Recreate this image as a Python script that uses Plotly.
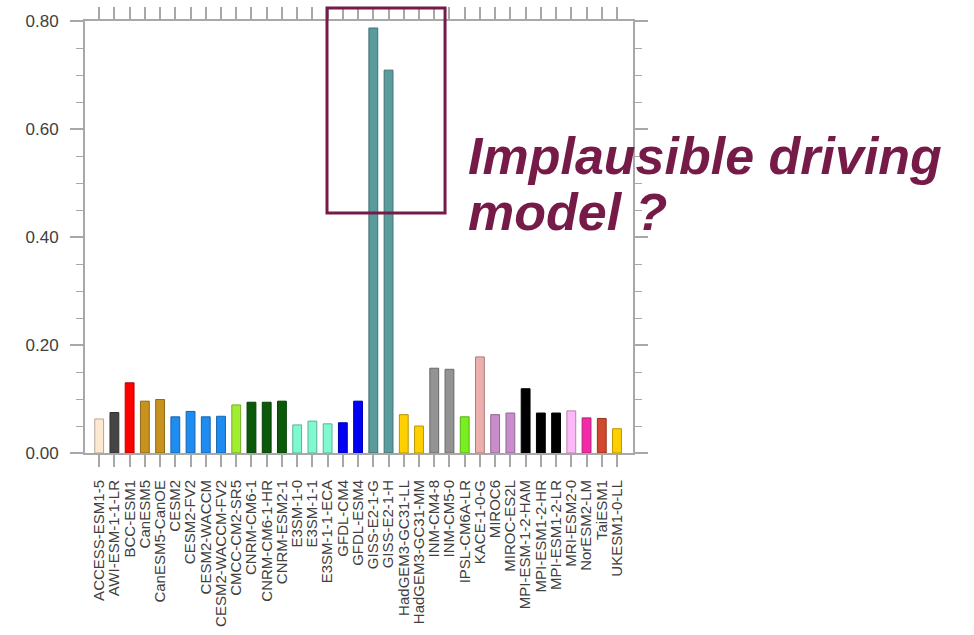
import plotly.graph_objects as go

models = [
    "ACCESS-ESM1-5", "AWI-ESM-1-1-LR", "BCC-ESM1", "CanESM5", "CanESM5-CanOE",
    "CESM2", "CESM2-FV2", "CESM2-WACCM", "CESM2-WACCM-FV2", "CMCC-CM2-SR5",
    "CNRM-CM6-1", "CNRM-CM6-1-HR", "CNRM-ESM2-1", "E3SM-1-0", "E3SM-1-1",
    "E3SM-1-1-ECA", "GFDL-CM4", "GFDL-ESM4", "GISS-E2-1-G", "GISS-E2-1-H",
    "HadGEM3-GC31-LL", "HadGEM3-GC31-MM", "INM-CM4-8", "INM-CM5-0", "IPSL-CM6A-LR",
    "KACE-1-0-G", "MIROC6", "MIROC-ES2L", "MPI-ESM-1-2-HAM", "MPI-ESM1-2-HR",
    "MPI-ESM1-2-LR", "MRI-ESM2-0", "NorESM2-LM", "TaiESM1", "UKESM1-0-LL",
]
values = [
    0.063, 0.075, 0.130, 0.096, 0.099,
    0.067, 0.077, 0.067, 0.068, 0.089,
    0.094, 0.094, 0.096, 0.052, 0.059,
    0.054, 0.056, 0.096, 0.787, 0.709,
    0.071, 0.050, 0.157, 0.155, 0.067,
    0.178, 0.071, 0.074, 0.119, 0.074,
    0.074, 0.078, 0.065, 0.064, 0.045,
]
colors = [
    "#FCE9D2", "#454545", "#FF0000", "#C8921F", "#C8921F",
    "#1E8CF0", "#1E8CF0", "#1E8CF0", "#1E8CF0", "#A0EE30",
    "#0A5A0A", "#0A5A0A", "#0A5A0A", "#80F8D0", "#80F8D0",
    "#80F8D0", "#0000F5", "#0000F5", "#5A9C9E", "#5A9C9E",
    "#FFD000", "#FFD000", "#939393", "#939393", "#78F020",
    "#EBB0AE", "#C98DCB", "#C98DCB", "#000000", "#000000",
    "#000000", "#FDB8F8", "#F52AA8", "#D0482E", "#FFD000",
]
y_ticks = [0.0, 0.2, 0.4, 0.6, 0.8]
annotation_lines = ["Implausible driving", "model ?"]

def darker(h, f=0.72):
    h = h.lstrip("#")
    r, g, b = (int(h[i:i + 2], 16) for i in (0, 2, 4))
    return "#%02x%02x%02x" % (int(r * f), int(g * f), int(b * f))

maroon = "#761A48"
axis_gray = "#A8A8A8"
label_color = "#404040"

fig = go.Figure()
fig.add_trace(go.Bar(
    x=list(range(len(models))),
    y=values,
    width=0.58,
    marker=dict(color=colors, line=dict(color=[darker(c) for c in colors], width=1)),
))

fig.update_layout(
    width=974, height=635,
    margin=dict(l=85, r=341, t=21, b=182, autoexpand=False),
    paper_bgcolor="white", plot_bgcolor="white",
    showlegend=False,
    font=dict(family="Liberation Sans, Arial, sans-serif", color=label_color),
)
fig.update_xaxes(
    automargin=False,
    range=[-0.93, 35.05],
    tickmode="array", tickvals=list(range(len(models))), ticktext=models,
    tickangle=-90, tickfont=dict(size=15, color=label_color),
    ticklabelstandoff=7,
    ticks="outside", ticklen=12, tickwidth=1.5, tickcolor=axis_gray,
    showline=True, linecolor=axis_gray, linewidth=2, mirror="ticks",
    showgrid=False, zeroline=False,
)
fig.update_yaxes(
    automargin=False,
    range=[0, 0.8],
    tickmode="array", tickvals=y_ticks, tickformat=".2f",
    tickfont=dict(size=17, color=label_color),
    ticklabelstandoff=8,
    ticks="outside", ticklen=13, tickwidth=1.5, tickcolor=axis_gray,
    minor=dict(dtick=0.05, ticks="outside", ticklen=7, tickwidth=1.2, tickcolor=axis_gray, showgrid=False),
    showline=True, linecolor=axis_gray, linewidth=2, mirror="ticks",
    showgrid=False, zeroline=False,
)

fig.add_shape(type="rect", xref="paper", yref="paper",
              x0=0.4416, x1=0.657, y0=0.5556, y1=1.030,
              line=dict(color=maroon, width=3))

fig.add_annotation(xref="paper", yref="paper", x=0.695, y=0.6875,
                   xanchor="left", yanchor="middle", showarrow=False,
                   text="<b><i>%s</i></b>" % annotation_lines[0],
                   font=dict(family="Liberation Sans, Arial, sans-serif", size=52, color=maroon))
fig.add_annotation(xref="paper", yref="paper", x=0.695, y=0.558,
                   xanchor="left", yanchor="middle", showarrow=False,
                   text="<b><i>%s</i></b>" % annotation_lines[1],
                   font=dict(family="Liberation Sans, Arial, sans-serif", size=52, color=maroon))

fig.write_html("out.html")
